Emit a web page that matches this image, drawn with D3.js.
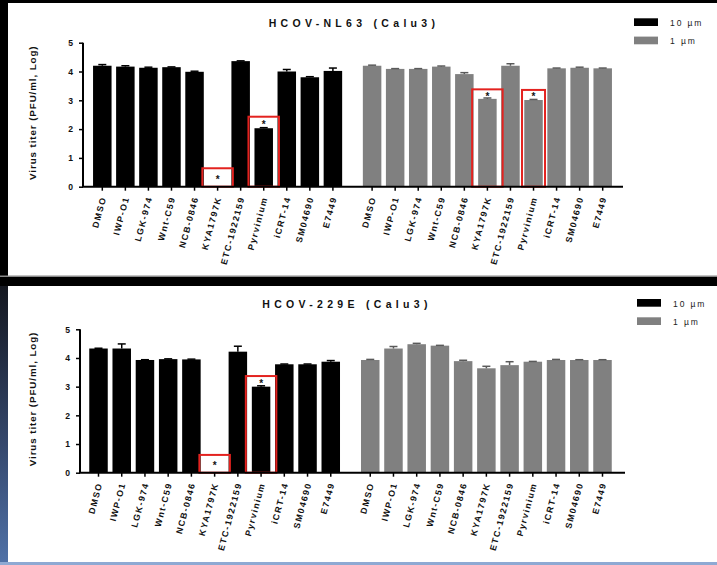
<!DOCTYPE html>
<html><head><meta charset="utf-8">
<script src="https://cdn.jsdelivr.net/npm/d3@7"></script>
<style>
html,body{margin:0;padding:0;background:#fff;}
svg{display:block;font-family:"Liberation Sans",Arial,sans-serif;}
</style></head>
<body>
<script>
// ---------------- DATA ----------------
const categories = ["DMSO","IWP-O1","LGK-974","Wnt-C59","NCB-0846","KYA1797K","ETC-1922159","Pyrvinium","iCRT-14","SM04690","E7449"];
const seriesNames = ["10 \u00b5m","1 \u00b5m"];
const yTicks = [0,1,2,3,4,5];
const titles = ["HCOV-NL63 (Calu3)","HCOV-229E (Calu3)"];
const yTitle = "Virus titer (PFU/ml, Log)";

// HCOV-NL63
const nl63_10um     = [4.20,4.17,4.13,4.15,3.99,0.00,4.36,2.03,4.00,3.80,4.02];
const nl63_10um_err = [0.04,0.03,0.02,0.01,0.02,0.00,0.01,0.02,0.07,0.02,0.10];
const nl63_1um      = [4.20,4.09,4.09,4.17,3.91,3.05,4.20,3.01,4.11,4.13,4.11];
const nl63_1um_err  = [0.02,0.01,0.01,0.02,0.05,0.03,0.07,0.02,0.01,0.02,0.01];
// HCOV-229E
const e229_10um     = [4.33,4.33,3.93,3.96,3.95,0.00,4.22,3.00,3.78,3.78,3.87];
const e229_10um_err = [0.01,0.16,0.01,0.01,0.01,0.00,0.19,0.03,0.01,0.01,0.04];
const e229_1um      = [3.93,4.33,4.48,4.43,3.89,3.64,3.75,3.87,3.93,3.93,3.93];
const e229_1um_err  = [0.02,0.07,0.03,0.01,0.03,0.07,0.12,0.01,0.02,0.01,0.01];

// significance boxes: series index, category, box top value
const nl63_marks = [
  {s:0, cat:"KYA1797K", top:0.64},
  {s:0, cat:"Pyrvinium", top:2.43},
  {s:1, cat:"KYA1797K", top:3.38},
  {s:1, cat:"Pyrvinium", top:3.36}
];
const e229_marks = [
  {s:0, cat:"KYA1797K", top:0.62},
  {s:0, cat:"Pyrvinium", top:3.37}
];

// ---------------- DRAW ----------------
const W = 717, H = 565;
const svg = d3.select("body").append("svg").attr("width", W).attr("height", H);
const defs = svg.append("defs");
const grad = defs.append("linearGradient").attr("id","lg").attr("x1",0).attr("y1",0).attr("x2",0).attr("y2",1);
grad.append("stop").attr("offset","0%").attr("stop-color","#14171f");
grad.append("stop").attr("offset","55%").attr("stop-color","#34466a");
grad.append("stop").attr("offset","100%").attr("stop-color","#5072a8");

svg.append("rect").attr("width",W).attr("height",H).attr("fill","#fff");
// frame
svg.append("rect").attr("x",0).attr("y",0).attr("width",W).attr("height",3).attr("fill","#000");
svg.append("rect").attr("x",0).attr("y",0).attr("width",8).attr("height",286).attr("fill","#000");
svg.append("rect").attr("x",0).attr("y",275.5).attr("width",W).attr("height",1.5).attr("fill","#888");
svg.append("rect").attr("x",0).attr("y",277).attr("width",W).attr("height",9).attr("fill","#000");
svg.append("rect").attr("x",0).attr("y",286).attr("width",8).attr("height",H-286).attr("fill","url(#lg)");
svg.append("rect").attr("x",0).attr("y",562).attr("width",W).attr("height",3).attr("fill","#8ea9d3");

const colors = ["#000000","#808080"];
const errColors = ["#000000","#5a5a5a"];
const GAP = 11.7;

function panel(cfg, title, s10, e10, s1, e1, marks){
  const g = svg.append("g");
  const x = d3.scaleLinear().domain([0, 10 + GAP]).range([cfg.xFirst, cfg.xLast]);
  const y = d3.scaleLinear().domain([0,5]).range([cfg.y0, cfg.y5]);
  const pos = (s,i) => x(s*GAP + i);
  const bw = 18.5;

  // title
  g.append("text").attr("x",cfg.titleX).attr("y",cfg.titleY)
    .attr("text-anchor","middle").attr("font-size",10.5).attr("font-weight","bold")
    .attr("letter-spacing","4.3px").attr("fill","#111").text(title);

  // bars
  const series = [{v:s10,e:e10},{v:s1,e:e1}];
  series.forEach((sr,s)=>{
    const data = categories.map((c,i)=>({c,i,v:sr.v[i],e:sr.e[i]}));
    g.selectAll(null).data(data.filter(d=>d.v>0)).enter().append("rect")
      .attr("x",d=>pos(s,d.i)-bw/2).attr("width",bw)
      .attr("y",d=>y(d.v)).attr("height",d=>y(0)-y(d.v))
      .attr("fill",colors[s]);
    const eb = data.filter(d=>d.v>0 && d.e>0);
    g.selectAll(null).data(eb).enter().append("line")
      .attr("x1",d=>pos(s,d.i)).attr("x2",d=>pos(s,d.i))
      .attr("y1",d=>y(d.v)).attr("y2",d=>y(d.v+d.e))
      .attr("stroke",errColors[s]).attr("stroke-width",1.5);
    g.selectAll(null).data(eb).enter().append("line")
      .attr("x1",d=>pos(s,d.i)-4).attr("x2",d=>pos(s,d.i)+4)
      .attr("y1",d=>y(d.v+d.e)).attr("y2",d=>y(d.v+d.e))
      .attr("stroke",errColors[s]).attr("stroke-width",1.5);
  });

  // red boxes + stars
  marks.forEach(m=>{
    const i = categories.indexOf(m.cat);
    const v = (m.s===0?s10:s1)[i];
    const cx = pos(m.s,i);
    const bwid = (m.s===1 && m.cat==="Pyrvinium") ? 23 : 30.5;
    g.append("rect").attr("x",cx-bwid/2).attr("width",bwid)
      .attr("y",y(m.top)).attr("height",y(0)-y(m.top))
      .attr("fill","none").attr("stroke","#e3221f").attr("stroke-width",2);
    const sy = (y(v)+y(m.top))/2;
    g.append("text").attr("x",cx).attr("y",sy+5.5).attr("text-anchor","middle")
      .attr("font-size",10).attr("font-weight","bold").attr("fill","#111").text("*");
  });

  // y axis
  const ya = g.append("g").attr("transform",`translate(${cfg.axisX},0)`)
    .call(d3.axisLeft(y).tickValues(yTicks).tickFormat(d3.format("d")).tickSize(4).tickPadding(6));
  ya.select(".domain").attr("stroke","#000").attr("stroke-width",2).attr("d",`M0,${y(5)}V${y(0)}`);
  ya.selectAll(".tick line").attr("stroke","#000").attr("stroke-width",1.5);
  ya.selectAll(".tick text").attr("font-size",8.6).attr("font-weight","bold").attr("fill","#111")
    .attr("font-family","'Liberation Sans',Arial,sans-serif");

  // x axis line
  g.append("line").attr("x1",cfg.axisX-1).attr("x2",cfg.axisEnd).attr("y1",y(0)).attr("y2",y(0))
    .attr("stroke","#000").attr("stroke-width",2);
  [0,1].forEach(s=>{
    const td = categories.map((c,i)=>({c,i}));
    g.selectAll(null).data(td).enter().append("line")
      .attr("x1",d=>pos(s,d.i)).attr("x2",d=>pos(s,d.i))
      .attr("y1",y(0)).attr("y2",y(0)+4).attr("stroke","#000").attr("stroke-width",1.5);
    g.selectAll(null).data(td).enter().append("text")
      .attr("transform",d=>`translate(${pos(s,d.i)+1},${y(0)+10}) rotate(-75)`)
      .attr("text-anchor","end").attr("dy","0.35em")
      .attr("font-size",8.8).attr("font-weight","bold").attr("letter-spacing","1.4px")
      .attr("fill","#111").text(d=>d.c);
  });

  // y title
  g.append("text").attr("transform",`translate(${cfg.yTitleX},${(y(0)+y(5))/2-2}) rotate(-90)`)
    .attr("text-anchor","middle").attr("dy","0.35em")
    .attr("font-size",9.8).attr("font-weight","bold").attr("letter-spacing","0.9px")
    .attr("fill","#111").text(yTitle);

  // legend
  seriesNames.forEach((n,s)=>{
    g.append("rect").attr("x",cfg.legX).attr("y",cfg.legY+s*18.3).attr("width",24).attr("height",7.7)
      .attr("fill",colors[s]);
    g.append("text").attr("x",cfg.legX+36).attr("y",cfg.legY+s*18.3+7.5)
      .attr("font-size",8.5).attr("letter-spacing","1.9px").attr("fill","#222").text(n);
  });
}

panel({axisX:83, axisEnd:623, xFirst:102.3, xLast:602.7, y0:186.7, y5:42.7, titleX:354, titleY:27, yTitleX:33, legX:634, legY:18.3},
  titles[0], nl63_10um, nl63_10um_err, nl63_1um, nl63_1um_err, nl63_marks);
panel({axisX:80, axisEnd:625, xFirst:98.5, xLast:602.5, y0:472.7, y5:329.3, titleX:347, titleY:308, yTitleX:33, legX:637, legY:299},
  titles[1], e229_10um, e229_10um_err, e229_1um, e229_1um_err, e229_marks);
</script>
</body></html>
